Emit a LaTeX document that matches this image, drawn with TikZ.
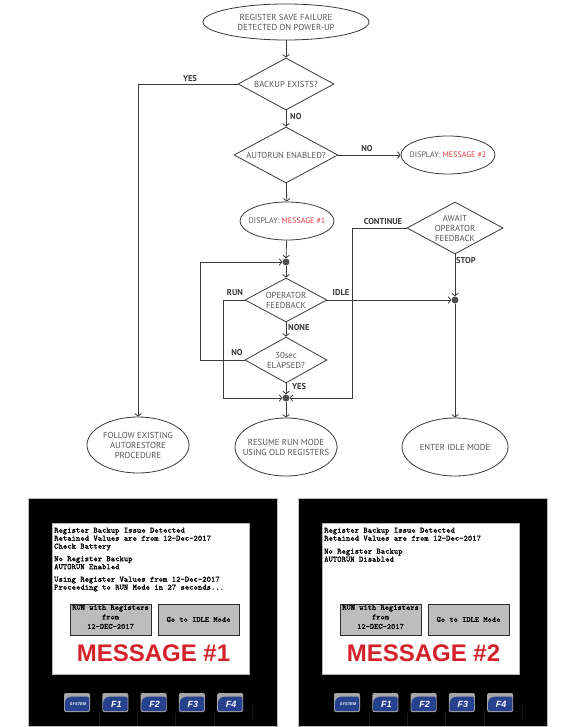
\documentclass[tikz,border=0pt]{standalone}
\usepackage{fontspec}
\setmainfont{Liberation Sans}
\newfontfamily\flowfont{PT Sans}
\newfontfamily\scrfont[FakeBold=1.0]{Latin Modern Mono}
\usetikzlibrary{shapes.geometric,arrows.meta}
\definecolor{linec}{HTML}{3A3A3A}
\definecolor{txtc}{HTML}{555555}
\definecolor{redc}{HTML}{E23A40}
\definecolor{msgred}{HTML}{D3222A}
\definecolor{btnc}{HTML}{BDBDBD}
\definecolor{keyblue}{HTML}{27418F}
\definecolor{keygray}{HTML}{A6A6A6}
\definecolor{dotc}{HTML}{4F4F4F}
\tikzset{
  flowterm/.style={ellipse, draw=linec, line width=0.8pt, inner xsep=-8pt, inner ysep=0pt, align=center,
    text=txtc, font=\flowfont\fontsize{8.7}{10}\selectfont},
  flowdec/.style={diamond, draw=linec, line width=0.8pt, inner sep=0pt, align=center,
    shape aspect=1.85, text=txtc, font=\flowfont\fontsize{8.7}{10}\selectfont},
  flowdot/.style={circle, fill=dotc, inner sep=0pt, minimum size=7pt},
  flowarr/.style={draw=linec, line width=0.8pt, -{Straight Barb[length=2.6pt,width=6.5pt]}},
  flowlbl/.style={text=linec, inner sep=0pt, font=\flowfont\bfseries\fontsize{8.5}{9}\selectfont},
  scrtext/.style={inner sep=0pt, align=left, text=black, font=\scrfont\fontsize{8.2}{8}\selectfont},
  btntext/.style={inner sep=0pt, align=center, text=black, font=\scrfont\fontsize{8}{9.5}\selectfont},
  keytext/.style={inner sep=0pt, text=white, font=\bfseries\itshape\fontsize{9}{9}\selectfont}
}
\newcommand\hmiPanel[5]{%
  \begin{scope}[xshift=#1]
    \fill[black, draw=gray!55, line width=0.8pt] (28,498) rectangle (277,726);
    \fill[white, draw=gray!60, line width=0.5pt] (52,523) rectangle (249,674);
    \node[scrtext, anchor=north west] (#2txt) at (54,527.5) {#3};
    \draw[fill=btnc, draw=gray!35!black, line width=0.7pt] (70,604) rectangle (151,635);
    \draw[fill=btnc, draw=gray!35!black, line width=0.7pt] (158,604) rectangle (239,635);
    \node[btntext] (#2runbtn) at (110.5,617) {RUN with Registers\\from\\12-DEC-2017};
    \node[btntext] (#2idlebtn) at (198.5,619.5) {Go to IDLE Mode};
    \node[inner sep=0pt, text=msgred, font=\bfseries\fontsize{24}{24}\selectfont] (#2msg) at (153.5,653.5) {#4};
    \foreach \k in {0,1,2,3} {
      \draw[gray!22!black, line width=0.5pt] ({99+\k*38.3},713) -- ({99+\k*38.3},726);
    }
    \draw[gray!22!black, line width=0.5pt] (252,706) -- (252,718);
    \foreach \i/\lab/\fs in {0/SYSTEM/4,1/F1/9,2/F2/9,3/F3/9,4/F4/9} {
      \begin{scope}[xshift={\i*38.3pt}]
        \fill[keygray, rounded corners=2pt] (64,693) rectangle (90,712);
        \fill[keyblue, rounded corners=1.5pt] (64.8,711.2) -- (64.8,705)
          .. controls (64.8,698.5) and (68,696.5) .. (75,696.5) -- (89.2,696.5) -- (89.2,711.2) -- cycle;
        \node[keytext, font=\bfseries\itshape\fontsize{\fs}{\fs}\selectfont] (#2key\i) at (78,704) {\lab};
      \end{scope}
    }
  \end{scope}}
\begin{document}
\begin{tikzpicture}[x=1pt,y=-1pt]
\useasboundingbox[fill=white] (0,0) rectangle (575,727);
% ---------- flowchart nodes ----------
\node[flowterm, minimum width=166pt, minimum height=36pt] (start) at (286,22) {REGISTER SAVE FAILURE\\DETECTED ON POWER-UP};
\node[flowdec, minimum width=96pt, minimum height=52pt] (backup) at (286,84) {BACKUP EXISTS?};
\node[flowdec, minimum width=104pt, minimum height=56pt] (autorun) at (286,155) {AUTORUN ENABLED?};
\node[flowterm, minimum width=94pt, minimum height=38pt, font=\flowfont\fontsize{8}{10}\selectfont] (msg2) at (448,155) {DISPLAY: \textcolor{redc}{MESSAGE \#2}};
\node[flowterm, minimum width=94pt, minimum height=38pt, font=\flowfont\fontsize{8}{10}\selectfont] (msg1) at (287,221) {DISPLAY: \textcolor{redc}{MESSAGE \#1}};
\node[flowdot] (dot1) at (286,262) {};
\node[flowdec, minimum width=82pt, minimum height=44pt] (opfb) at (286,300) {OPERATOR\\FEEDBACK};
\node[flowdec, minimum width=82pt, minimum height=46pt] (t30) at (286,360) {30sec\\ELAPSED?};
\node[flowdot] (dot2) at (286,398) {};
\node[flowdec, minimum width=96pt, minimum height=52pt] (await) at (455,228) {AWAIT\\OPERATOR\\FEEDBACK};
\node[flowdot] (dot3) at (455,300) {};
\node[flowterm, minimum width=102pt, minimum height=56pt] (follow) at (138,445) {FOLLOW EXISTING\\AUTORESTORE\\PROCEDURE};
\node[flowterm, minimum width=102pt, minimum height=58pt] (resume) at (286,447) {RESUME RUN MODE\\USING OLD REGISTERS};
\node[flowterm, minimum width=106pt, minimum height=58pt] (idle) at (455,447) {ENTER IDLE MODE};
\coordinate (runc) at (223,300);
\coordinate (noc) at (200,360);
\coordinate (contc) at (352,228);
% ---------- connectors ----------
\draw[flowarr] (start) -- (backup);
\draw[flowarr] (backup.west) -| (follow.north);
\draw[flowarr] (backup) -- (autorun);
\draw[flowarr] (autorun) -- (msg2);
\draw[flowarr] (autorun) -- (msg1);
\draw[flowarr] (msg1) -- (dot1);
\draw[flowarr] (dot1) -- (opfb);
\draw[flowarr] (opfb.west) -- (runc) |- (dot2);
\draw[flowarr] (opfb.east) -- (dot3);
\draw[flowarr] (opfb) -- (t30);
\draw[flowarr] (t30.west) -- (noc) |- (dot1);
\draw[flowarr] (t30) -- (dot2);
\draw[flowarr] (await.west) -- (contc) |- (dot2);
\draw[flowarr] (await) -- (dot3);
\draw[flowarr] (dot2) -- (resume);
\draw[flowarr] (dot3) -- (idle);
% ---------- labels ----------
\node[flowlbl] (lyes1) at (190,78.5) {YES};
\node[flowlbl, anchor=west] (lno1) at (290,117) {NO};
\node[flowlbl] (lno2) at (367,149) {NO};
\node[flowlbl] (lcont) at (383,222) {CONTINUE};
\node[flowlbl, anchor=west] (lstop) at (456,261) {STOP};
\node[flowlbl] (lrun) at (235,293) {RUN};
\node[flowlbl] (lidle) at (341,293) {IDLE};
\node[flowlbl, anchor=west] (lnone) at (288,328) {NONE};
\node[flowlbl] (lno3) at (237,353) {NO};
\node[flowlbl, anchor=west] (lyes2) at (292,387) {YES};
% ---------- panels ----------
\hmiPanel{0pt}{pa}{Register Backup Issue Detected\\Retained Values are from 12-Dec-2017\\Check Battery\\[4.5pt]No Register Backup\\AUTORUN Enabled\\[4.5pt]Using Register Values from 12-Dec-2017\\Proceeding to RUN Mode in 27 seconds...}{MESSAGE \#1}{}
\hmiPanel{270pt}{pb}{Register Backup Issue Detected\\Retained Values are from 12-Dec-2017\\[5pt]No Register Backup\\AUTORUN Disabled}{MESSAGE \#2}{}
\end{tikzpicture}
\end{document}
